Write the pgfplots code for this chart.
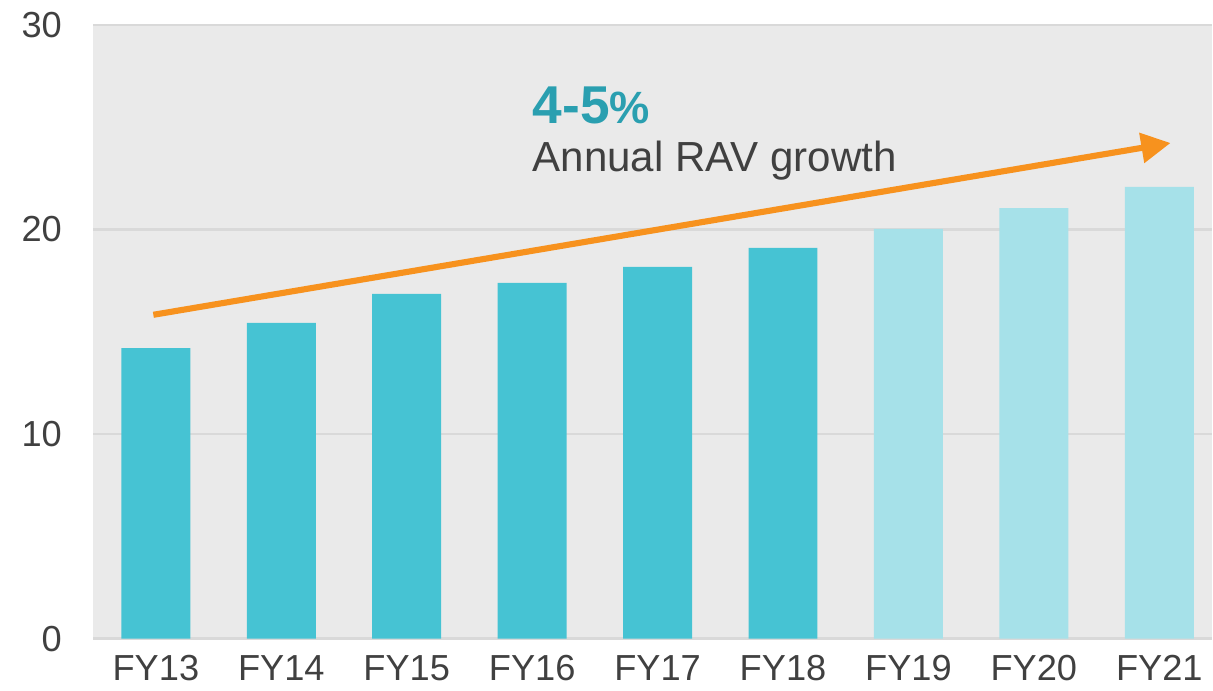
\documentclass[border=0pt]{standalone}
\usepackage{pgfplots}
\pgfplotsset{compat=1.18}
\usepackage{fontspec}
\setmainfont{Liberation Sans}
\usetikzlibrary{arrows.meta}
\definecolor{bardark}{HTML}{46C3D3}
\definecolor{barlight}{HTML}{A6E1E9}
\definecolor{bggray}{HTML}{EAEAEA}
\definecolor{gridgray}{HTML}{D9D9D9}
\definecolor{txtgray}{HTML}{404040}
\definecolor{tealtxt}{HTML}{2A9FB0}
\definecolor{arroworange}{HTML}{F7921E}

\begin{document}
\begin{tikzpicture}
% page frame round the plot area (plot area starts at 0,0)
\path (-1.23cm,-0.66cm) rectangle (14.77cm,8.43cm);
\begin{axis}[
    at={(0,0)}, anchor=south west,
    scale only axis,
    width=14.77cm, height=8.1cm,
    xmin=-0.5, xmax=8.42,
    ymin=0, ymax=30,
    ytick={0,10,20,30},
    xtick={0,...,8},
    xticklabels={FY13,FY14,FY15,FY16,FY17,FY18,FY19,FY20,FY21},
    axis line style={draw=none},
    major tick length=0pt,
    ymajorgrids=true,
    grid style={gridgray, line width=0.8pt},
    axis background/.style={fill=bggray},
    tick label style={font=\fontsize{13.6}{16}\selectfont, text=txtgray},
    yticklabel style={xshift=-0.29cm},
    xticklabel style={yshift=-0.1cm},
    /pgf/number format/assume math mode=true,
    ybar, bar width=0.55,
    clip=false,
]
\addplot[fill=bardark, draw=none, bar shift=0pt]
    coordinates {(0,14.2) (1,15.44) (2,16.85) (3,17.39) (4,18.17) (5,19.1)};
\addplot[fill=barlight, draw=none, bar shift=0pt]
    coordinates {(6,20.03) (7,21.05) (8,22.08)};

\draw[arroworange, line width=2.3pt, -{Triangle[length=11pt,width=11pt]}]
    (axis cs:-0.02,15.83) -- (axis cs:8.09,24.23);
\node[anchor=base west, inner sep=0pt, text=tealtxt, font=\bfseries]
    at (axis cs:3.0,25.2) {\fontsize{20}{22}\selectfont 4-5\fontsize{17}{20}\selectfont\%};
\node[anchor=base west, inner sep=0pt, text=txtgray]
    at (axis cs:3.0,22.86) {\fontsize{15.8}{18}\selectfont Annual RAV growth};
\end{axis}
\end{tikzpicture}
\end{document}
